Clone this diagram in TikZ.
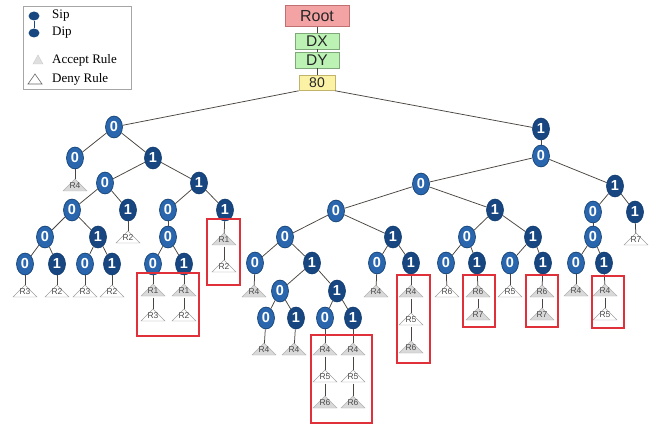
\documentclass[tikz,border=0pt]{standalone}
\usepackage{fontspec}
\setmainfont{Liberation Sans}
\newfontfamily\legfont{Liberation Serif}
\usetikzlibrary{shapes.geometric}
\definecolor{zfill}{HTML}{2A66AD}
\definecolor{ofill}{HTML}{174681}
\definecolor{zdraw}{HTML}{0E3A6E}
\definecolor{boxred}{HTML}{E0303A}
\definecolor{rootfill}{HTML}{F3A3A3}
\definecolor{rootdraw}{HTML}{C07070}
\definecolor{dxfill}{HTML}{BDF2B5}
\definecolor{dxdraw}{HTML}{7FA87A}
\definecolor{yfill}{HTML}{FBF2A6}
\definecolor{ydraw}{HTML}{C2B36A}
\definecolor{edgec}{HTML}{4A4540}
\tikzset{
  zn/.style={ellipse, fill=zfill, draw=zdraw, line width=0.6pt, minimum width=17pt, minimum height=22pt, inner sep=0pt, text=white, font=\fontsize{14.5}{14.5}\selectfont\bfseries},
  on/.style={zn, fill=ofill},
  rt/.style={inner sep=0pt, minimum width=20pt, minimum height=13pt, font=\fontsize{8.5}{9}\selectfont, text=black!70},
  acc/.style={fill=gray!30, draw=gray!60, line width=0.4pt},
  den/.style={fill=white, draw=gray!75, line width=0.4pt},
  edge/.style={draw=edgec, line width=0.75pt},
  redbox/.style={draw=boxred, line width=1.6pt},
  hbox/.style={rectangle, inner sep=0pt, line width=0.6pt, text=black!85},
  legt/.style={anchor=west, font=\legfont\fontsize{13}{13}\selectfont, inner sep=0pt},
}
\newcommand\rulenode[4]{%
  \path[#4] (#2) ++(-12,5) -- ++(12,-12) -- ++(12,12) -- cycle;
  \node[rt] (#1) at (#2) {#3};}
\begin{document}
\begin{tikzpicture}[x=1pt,y=-1pt]
\useasboundingbox (0,0) rectangle (654,425);
\fill[white] (0,0) rectangle (654,425);

% legend
\draw[gray!70, line width=0.8pt] (23,6) rectangle (131,89);
\node[ellipse, fill=ofill, minimum width=11pt, minimum height=9pt, inner sep=0pt] (ls) at (34,16) {};
\node[ellipse, fill=ofill, minimum width=11pt, minimum height=9pt, inner sep=0pt] (ld) at (34,33) {};
\draw[ofill, line width=0.8pt] (ls) -- (ld);
\node[legt] (lst) at (52,16) {Sip};
\node[legt] (ldt) at (52,33) {Dip};
\path[acc, draw=gray!40, fill=gray!25] (33,64) -- (38,55) -- (43,64) -- cycle;
\path[den, draw=black!60, line width=0.6pt] (28,84) -- (35,74) -- (42,84) -- cycle;
\node[legt] (lat) at (52,60) {Accept Rule};
\node[legt] (ldt2) at (52,79) {Deny Rule};

% header boxes
\node[hbox, fill=rootfill, draw=rootdraw, minimum width=64pt, minimum height=21pt, font=\fontsize{16}{16}\selectfont] (root) at (317,16) {Root};
\node[hbox, fill=dxfill, draw=dxdraw, minimum width=44pt, minimum height=16pt, font=\fontsize{15.5}{15.5}\selectfont] (dx) at (317,41) {DX};
\node[hbox, fill=dxfill, draw=dxdraw, minimum width=44pt, minimum height=16pt, font=\fontsize{15.5}{15.5}\selectfont] (dy) at (317,60) {DY};
\node[hbox, fill=yfill, draw=ydraw, minimum width=36pt, minimum height=15pt, font=\fontsize{14}{14}\selectfont] (b80) at (317,83) {80};
\draw[edge, line width=0.5pt] (root) -- (dx);
\draw[edge, line width=0.5pt] (dx) -- (dy);
\draw[edge, line width=0.5pt] (dy) -- (b80);

% ---------- left subtree ----------
\node[zn] (a) at (114,127) {0};
\node[zn] (a0) at (75,158) {0};
\node[on] (a1) at (153,158) {1};
\node[zn] (a10) at (105,183) {0};
\node[on] (a11) at (199,183) {1};
\node[zn] (a100) at (72,210) {0};
\node[on] (a101) at (128,210) {1};
\node[zn] (a1000) at (45,237) {0};
\node[on] (a1001) at (98,237) {1};
\node[zn] (a10000) at (25,264) {0};
\node[on] (a10001) at (57,264) {1};
\node[zn] (a10010) at (85,264) {0};
\node[on] (a10011) at (112,264) {1};
\node[zn] (a110) at (168,210) {0};
\node[on] (a111) at (225,210) {1};
\node[zn] (a1100) at (168,237) {0};
\node[zn] (a11000) at (153,264) {0};
\node[on] (a11001) at (184,264) {1};

\rulenode{ra0}{75,186}{R4}{acc}
\rulenode{ra101}{128,238}{R2}{den}
\rulenode{rl1}{25,292}{R3}{den}
\rulenode{rl2}{57,292}{R2}{den}
\rulenode{rl3}{85,292}{R3}{den}
\rulenode{rl4}{112,292}{R2}{den}
\rulenode{rm1}{153,291}{R1}{acc}
\rulenode{rm2}{153,316}{R3}{den}
\rulenode{rm3}{184,291}{R1}{acc}
\rulenode{rm4}{184,316}{R2}{den}
\rulenode{rn1}{224,240}{R1}{acc}
\rulenode{rn2}{224,267}{R2}{den}

% ---------- right subtree ----------
\node[on] (b) at (541,129) {1};
\node[zn] (b0) at (541,156) {0};
\node[zn] (b00) at (421,184) {0};
\node[on] (b01) at (615,186) {1};
\node[zn] (b000) at (336,211) {0};
\node[on] (b001) at (495,210) {1};
\node[zn] (b0000) at (285,237) {0};
\node[on] (b0001) at (393,237) {1};
\node[zn] (c0) at (255,263) {0};
\node[on] (c1) at (312,263) {1};
\node[zn] (c10) at (280,291) {0};
\node[on] (c11) at (337,291) {1};
\node[zn] (c100) at (266,318) {0};
\node[on] (c101) at (296,318) {1};
\node[zn] (c110) at (325,318) {0};
\node[on] (c111) at (353,318) {1};
\node[zn] (d0) at (377,263) {0};
\node[on] (d1) at (411,263) {1};
\node[zn] (e0) at (467,237) {0};
\node[on] (e1) at (533,237) {1};
\node[zn] (e00) at (446,263) {0};
\node[on] (e01) at (477,263) {1};
\node[zn] (e10) at (510,263) {0};
\node[on] (e11) at (543,263) {1};
\node[zn] (f0) at (593,212) {0};
\node[on] (f1) at (635,212) {1};
\node[zn] (f00) at (593,237) {0};
\node[zn] (f000) at (576,263) {0};
\node[on] (f001) at (604,263) {1};

\rulenode{rc0}{254,292}{R4}{acc}
\rulenode{rc100}{264,350}{R4}{acc}
\rulenode{rc101}{294,350}{R4}{acc}
\rulenode{rp1}{325,350}{R4}{acc}
\rulenode{rp2}{325,377}{R5}{den}
\rulenode{rp3}{325,403}{R6}{acc}
\rulenode{rq1}{353,350}{R4}{acc}
\rulenode{rq2}{353,377}{R5}{den}
\rulenode{rq3}{353,403}{R6}{acc}
\rulenode{rd0}{376,292}{R4}{acc}
\rulenode{rd1}{411,292}{R4}{acc}
\rulenode{rd2}{411,320}{R5}{den}
\rulenode{rd3}{411,348}{R6}{acc}
\rulenode{re00}{447,292}{R6}{den}
\rulenode{re01}{478,292}{R6}{acc}
\rulenode{re02}{478,315}{R7}{acc}
\rulenode{re10}{510,292}{R5}{den}
\rulenode{re11}{542,292}{R6}{acc}
\rulenode{re12}{542,315}{R7}{acc}
\rulenode{rf1}{636,240}{R7}{den}
\rulenode{rf000}{576,291}{R4}{acc}
\rulenode{rf001}{605,291}{R4}{acc}
\rulenode{rf002}{605,315}{R5}{den}

% ---------- edges ----------
\draw[edge] (b80.south west) -- (a);
\draw[edge] (b80.south east) -- (b);
\foreach \p/\c in {a/a0,a/a1,a0/ra0,a1/a10,a1/a11,a10/a100,a10/a101,a101/ra101,
  a100/a1000,a100/a1001,a1000/a10000,a1000/a10001,a1001/a10010,a1001/a10011,
  a10000/rl1,a10001/rl2,a10010/rl3,a10011/rl4,a11/a110,a11/a111,a110/a1100,
  a1100/a11000,a1100/a11001,a11000/rm1,rm1/rm2,a11001/rm3,rm3/rm4,a111/rn1,rn1/rn2,
  b/b0,b0/b00,b0/b01,b00/b000,b00/b001,b000/b0000,b000/b0001,b0000/c0,b0000/c1,
  c0/rc0,c1/c10,c1/c11,c10/c100,c10/c101,c100/rc100,c101/rc101,c11/c110,c11/c111,
  c110/rp1,rp1/rp2,rp2/rp3,c111/rq1,rq1/rq2,rq2/rq3,b0001/d0,b0001/d1,d0/rd0,
  d1/rd1,rd1/rd2,rd2/rd3,b001/e0,b001/e1,e0/e00,e0/e01,e1/e10,e1/e11,e00/re00,
  e01/re01,re01/re02,e10/re10,e11/re11,re11/re12,b01/f0,b01/f1,f1/rf1,f0/f00,
  f00/f000,f00/f001,f000/rf000,f001/rf001,rf001/rf002}
  {\draw[edge] (\p) -- (\c);}

% ---------- red boxes ----------
\draw[redbox] (137,273) rectangle (199,336);
\draw[redbox] (207,219) rectangle (240,285);
\draw[redbox] (311,335) rectangle (372,423);
\draw[redbox] (397,275) rectangle (430,363);
\draw[redbox] (463,275) rectangle (495,327);
\draw[redbox] (526,275) rectangle (558,327);
\draw[redbox] (592,276) rectangle (624,328);
\end{tikzpicture}
\end{document}
